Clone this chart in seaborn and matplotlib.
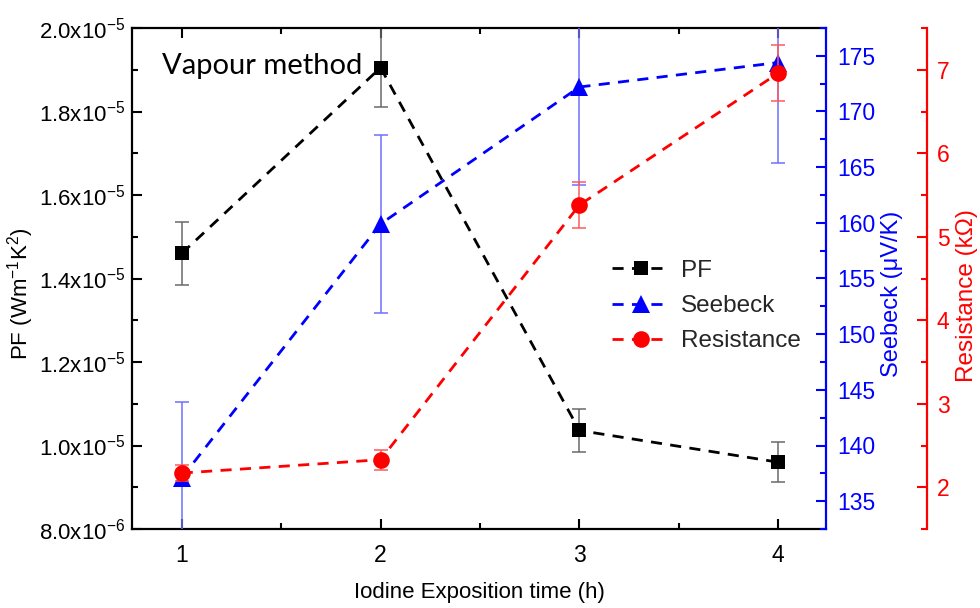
import numpy as np
import pandas as pd
import matplotlib
matplotlib.use("Agg")
import matplotlib.pyplot as plt
from matplotlib.ticker import MultipleLocator, FuncFormatter, FixedLocator
import seaborn as sns

# Iodine exposition time (h)
hours = [1, 2, 3, 4]

# Power factor (W m^-1 K^-2) with error
pf = [1.46e-5, 1.905e-5, 1.036e-5, 0.960e-5]
pf_err = [0.075e-5, 0.095e-5, 0.051e-5, 0.048e-5]

# Seebeck coefficient (uV/K) with error
seebeck = [137.1, 159.9, 172.2, 174.4]
seebeck_err = [6.8, 8.0, 8.8, 9.0]

# Resistance (kOhm) with error
resistance = [2.17, 2.33, 5.38, 6.96]
resistance_err = [0.10, 0.12, 0.27, 0.34]

x_ticks = [1, 2, 3, 4]
pf_ticks = [8.0e-6, 1.0e-5, 1.2e-5, 1.4e-5, 1.6e-5, 1.8e-5, 2.0e-5]
seebeck_ticks = [135, 140, 145, 150, 155, 160, 165, 170, 175]
resistance_ticks = [2, 3, 4, 5, 6, 7]

series_labels = ["PF", "Seebeck", "Resistance"]

sns.set_theme(style="ticks")
plt.rcParams["font.family"] = ["Liberation Sans", "DejaVu Sans"]
plt.rcParams["mathtext.fontset"] = "custom"
plt.rcParams["mathtext.rm"] = "Liberation Sans"
plt.rcParams["mathtext.it"] = "Liberation Sans:italic"
plt.rcParams["mathtext.bf"] = "Liberation Sans:bold"
plt.rcParams["mathtext.default"] = "regular"

df = pd.DataFrame({"hours": hours, "pf": pf, "seebeck": seebeck,
                   "resistance": resistance})

fig = plt.figure(figsize=(9.8, 6.08), dpi=100)
fig.patch.set_facecolor("white")
ax = fig.add_axes([132 / 980, 1 - 529 / 608, 694 / 980, 501 / 608])
ax2 = ax.twinx()
ax3 = ax.twinx()
ax3.spines["right"].set_position(("axes", 1.1455))

dash = (0, (4, 3))
tick_fs = 16.5

# error bars first, then dashed lines with markers on top
ax.errorbar(hours, pf, yerr=pf_err, fmt="none", ecolor="#6a6a6a",
            elinewidth=1.1, capsize=5, capthick=1.1, zorder=2)
sns.lineplot(data=df, x="hours", y="pf", ax=ax, color="black",
             marker="s", markersize=10.5, markeredgewidth=0,
             linestyle=dash, linewidth=2, errorbar=None, zorder=3)

ax2.errorbar(hours, seebeck, yerr=seebeck_err, fmt="none", ecolor="#6f6fff",
             elinewidth=1.1, capsize=5, capthick=1.1, zorder=2)
sns.lineplot(data=df, x="hours", y="seebeck", ax=ax2, color="#0000ff",
             marker="^", markersize=13, markeredgewidth=0,
             linestyle=dash, linewidth=2, errorbar=None, zorder=3)

ax3.errorbar(hours, resistance, yerr=resistance_err, fmt="none",
             ecolor="#ff5a5a", elinewidth=1.1, capsize=5, capthick=1.1,
             zorder=2)
sns.lineplot(data=df, x="hours", y="resistance", ax=ax3, color="#ff0000",
             marker="o", markersize=12, markeredgewidth=0,
             linestyle=dash, linewidth=2, errorbar=None, zorder=3)

# limits
ax.set_xlim(0.75, 4.24)
ax.set_ylim(8.0e-6, 2.0e-5)
ax2.set_ylim(132.5, 177.5)
ax3.set_ylim(1.5, 7.5)

# primary axis ticks
ax.xaxis.set_major_locator(FixedLocator(x_ticks))
ax.xaxis.set_minor_locator(MultipleLocator(0.5))
ax.yaxis.set_major_locator(FixedLocator(pf_ticks))
ax.yaxis.set_minor_locator(MultipleLocator(1.0e-6))


def sci_label(v, pos):
    exp = int(np.floor(np.log10(abs(v)) + 1e-9))
    mant = v / 10 ** exp
    return f"{mant:.1f}x10$^{{{exp}}}$"


ax.yaxis.set_major_formatter(FuncFormatter(sci_label))
ax.tick_params(axis="both", which="both", direction="in", colors="black",
               width=1.5, top=True, right=False, labelsize=tick_fs)
ax.tick_params(axis="y", which="both", pad=5, labelsize=16)
ax.tick_params(axis="x", which="both", pad=11, labeltop=False)
ax.tick_params(axis="both", which="major", length=7)
ax.tick_params(axis="both", which="minor", length=4.5)

# Seebeck axis
ax2.yaxis.set_major_locator(FixedLocator(seebeck_ticks))
ax2.yaxis.set_minor_locator(MultipleLocator(2.5))
ax2.tick_params(axis="y", which="both", direction="in", colors="#0000ff",
                width=1.5, labelsize=tick_fs, pad=8)
ax2.tick_params(axis="y", which="major", length=7)
ax2.tick_params(axis="y", which="minor", length=4.5)

# Resistance axis
ax3.yaxis.set_major_locator(FixedLocator(resistance_ticks))
ax3.yaxis.set_minor_locator(MultipleLocator(0.5))
ax3.tick_params(axis="y", which="both", direction="in", colors="#ff0000",
                width=1.5, labelsize=tick_fs, pad=7)
ax3.tick_params(axis="y", which="major", length=7.5)
ax3.tick_params(axis="y", which="minor", length=4.5)

# spines
for name in ["left", "bottom", "top"]:
    ax.spines[name].set_color("black")
    ax.spines[name].set_linewidth(1.6)
ax.spines["right"].set_visible(False)
for name in ["left", "bottom", "top"]:
    ax2.spines[name].set_visible(False)
    ax3.spines[name].set_visible(False)
ax2.spines["right"].set_color("#0000ff")
ax2.spines["right"].set_linewidth(1.6)
ax3.spines["right"].set_color("#ff0000")
ax3.spines["right"].set_linewidth(1.6)

# axis labels
ax.set_xlabel("Iodine Exposition time (h)", fontsize=16, color="black")
ax.set_ylabel("PF (Wm$^{-1}$K$^{2}$)", fontsize=16, color="black")
ax2.set_ylabel("Seebeck (μV/K)", fontsize=17, color="#0000ff")
ax3.set_ylabel("Resistance (kΩ)", fontsize=17.5, color="#ff0000")
ax.xaxis.set_label_coords(0.5, -0.106)
ax.yaxis.set_label_coords(-0.139, 0.47)
ax2.yaxis.set_label_coords(1.079, 0.47)
ax3.yaxis.set_label_coords(1.188, 0.465)

# legend built from the drawn lines
handles = [ax.lines[-1], ax2.lines[-1], ax3.lines[-1]]
ax3.legend(handles, series_labels, loc="center left",
           bbox_to_anchor=(590 / 980, 1 - 306 / 608),
           bbox_transform=fig.transFigure, frameon=False, fontsize=17.5,
           handlelength=2.4, handletextpad=0.45, labelspacing=0.55)

fig.text(162 / 980, 1 - 66 / 608, "Vapour method", ha="left", va="center",
         fontsize=21, family=["Lato", "DejaVu Sans"], color="black")

fig.savefig("out.png", dpi=100, facecolor="white")
